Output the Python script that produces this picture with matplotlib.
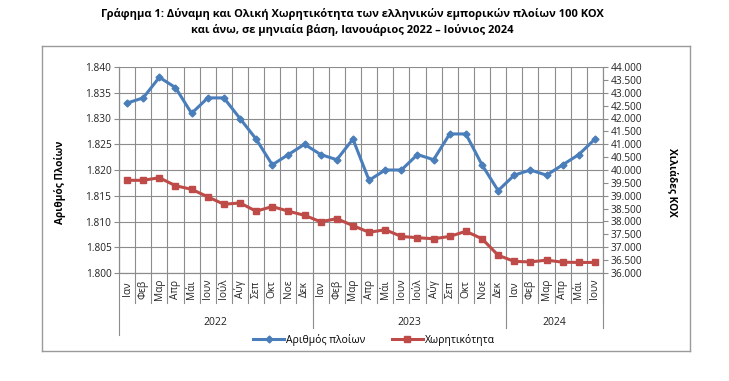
import numpy as np
import matplotlib
matplotlib.use('Agg')
import matplotlib.pyplot as plt
from matplotlib.ticker import FuncFormatter, MultipleLocator

plt.rcParams['font.family'] = ['Open Sans', 'DejaVu Sans']

# δεδομένα
months = ['Ιαν', 'Φεβ', 'Μαρ', 'Απρ', 'Μάι', 'Ιουν', 'Ιούλ', 'Αύγ', 'Σεπ', 'Οκτ', 'Νοε', 'Δεκ']
years = ['2022', '2023', '2024']
year_months = [12, 12, 6]
month_labels = months * 2 + months[:6]
ships = [1833, 1834, 1838, 1836, 1831, 1834, 1834, 1830, 1826, 1821, 1823, 1825,
         1823, 1822, 1826, 1818, 1820, 1820, 1823, 1822, 1827, 1827, 1821, 1816,
         1819, 1820, 1819, 1821, 1823, 1826]
gt = [39600, 39600, 39700, 39390, 39250, 38960, 38670, 38720, 38400, 38580, 38400, 38240,
      37990, 38110, 37840, 37580, 37680, 37420, 37370, 37330, 37420, 37620, 37330, 36690,
      36450, 36430, 36500, 36420, 36410, 36410]

title = ('Γράφημα 1: Δύναμη και Ολική Χωρητικότητα των ελληνικών εμπορικών πλοίων 100 ΚΟΧ\n'
         'και άνω, σε μηνιαία βάση, Ιανουάριος 2022 – Ιούνιος 2024')

blue = '#4A7EBB'
red = '#BE4B48'
grid_c = '#8C8C8C'

def gr_fmt(v, p):
    return f'{v:,.0f}'.replace(',', '.')

fig = plt.figure(figsize=(7.29, 3.81), dpi=100)

# πλαίσιο γραφήματος (άδειοι άξονες μόνο για το περίγραμμα)
bg = fig.add_axes([42 / 729, 1 - 351 / 381, 648 / 729, 305 / 381], zorder=-1)
bg.set_xticks([])
bg.set_yticks([])
bg.patch.set_alpha(0)
for s in bg.spines.values():
    s.set_color('#9A9A9A')
    s.set_linewidth(1.0)

ax = fig.add_axes([119 / 729, 1 - 273 / 381, 484 / 729, 206 / 381])
ax2 = ax.twinx()

x = np.arange(len(ships))
l1, = ax.plot(x, ships, color=blue, lw=2.2, marker='D', ms=3.5, label='Αριθμός πλοίων')
l2, = ax2.plot(x, gt, color=red, lw=2.2, marker='s', ms=4.5, label='Χωρητικότητα')

ax.set_xlim(-0.5, len(ships) - 0.5)
ax.set_ylim(1800, 1840)
ax.yaxis.set_major_locator(MultipleLocator(5))
ax.yaxis.set_major_formatter(FuncFormatter(gr_fmt))
ax2.set_ylim(36000, 44000)
ax2.yaxis.set_major_locator(MultipleLocator(500))
ax2.yaxis.set_major_formatter(FuncFormatter(gr_fmt))

ax.set_xticks(np.arange(-0.5, len(ships), 1))
ax.set_xticklabels([])
ax.tick_params(axis='x', length=0)
ax.grid(True, color=grid_c, lw=0.8)
ax.set_axisbelow(True)

for a in (ax, ax2):
    a.tick_params(axis='y', labelsize=7.3, length=3.5, color=grid_c, pad=2, labelcolor='#222222')
    for s in a.spines.values():
        s.set_color(grid_c)
        s.set_linewidth(0.8)
ax.spines['top'].set_visible(False)
ax2.spines['top'].set_visible(False)

# ετικέτες μηνών και ετών
trans = ax.get_xaxis_transform()
for i, m in enumerate(month_labels):
    ax.text(i, -0.078, m, transform=trans, rotation=90, ha='center', va='center',
            fontsize=7.3, color='#222222')
    ax.plot([i + 0.5, i + 0.5], [0, -0.146], transform=trans, color=grid_c, lw=0.8, clip_on=False)
start = 0
for y, n in zip(years, year_months):
    ax.text(start + n / 2 - 0.5, -0.238, y, transform=trans, ha='center', va='center',
            fontsize=7.5, color='#222222')
    ax.plot([start + n - 0.5] * 2, [0, -0.267], transform=trans, color=grid_c, lw=0.8, clip_on=False)
    start += n
ax.plot([-0.5, -0.5], [0, -0.30], transform=trans, color=grid_c, lw=0.8, clip_on=False)

fig.text(60 / 729, 1 - 182 / 381, 'Αριθμός Πλοίων', rotation=90, ha='center', va='center',
         fontsize=7.3, fontweight='bold')
fig.text(672 / 729, 1 - 182 / 381, 'Χιλιάδες ΚΟΧ', rotation=270, ha='center', va='center',
         fontsize=7.3, fontweight='bold')

fig.text(0.483, 1 - 22 / 381, title, ha='center', va='center', fontsize=8.0,
         fontweight='bold', linespacing=1.45)

fig.legend(handles=[l1, l2], loc='center', bbox_to_anchor=(374 / 729, 1 - 340 / 381), ncol=2,
           frameon=False, fontsize=7.5, handlelength=3, columnspacing=2.5, handletextpad=0.2)

fig.savefig('out.png', dpi=100)
